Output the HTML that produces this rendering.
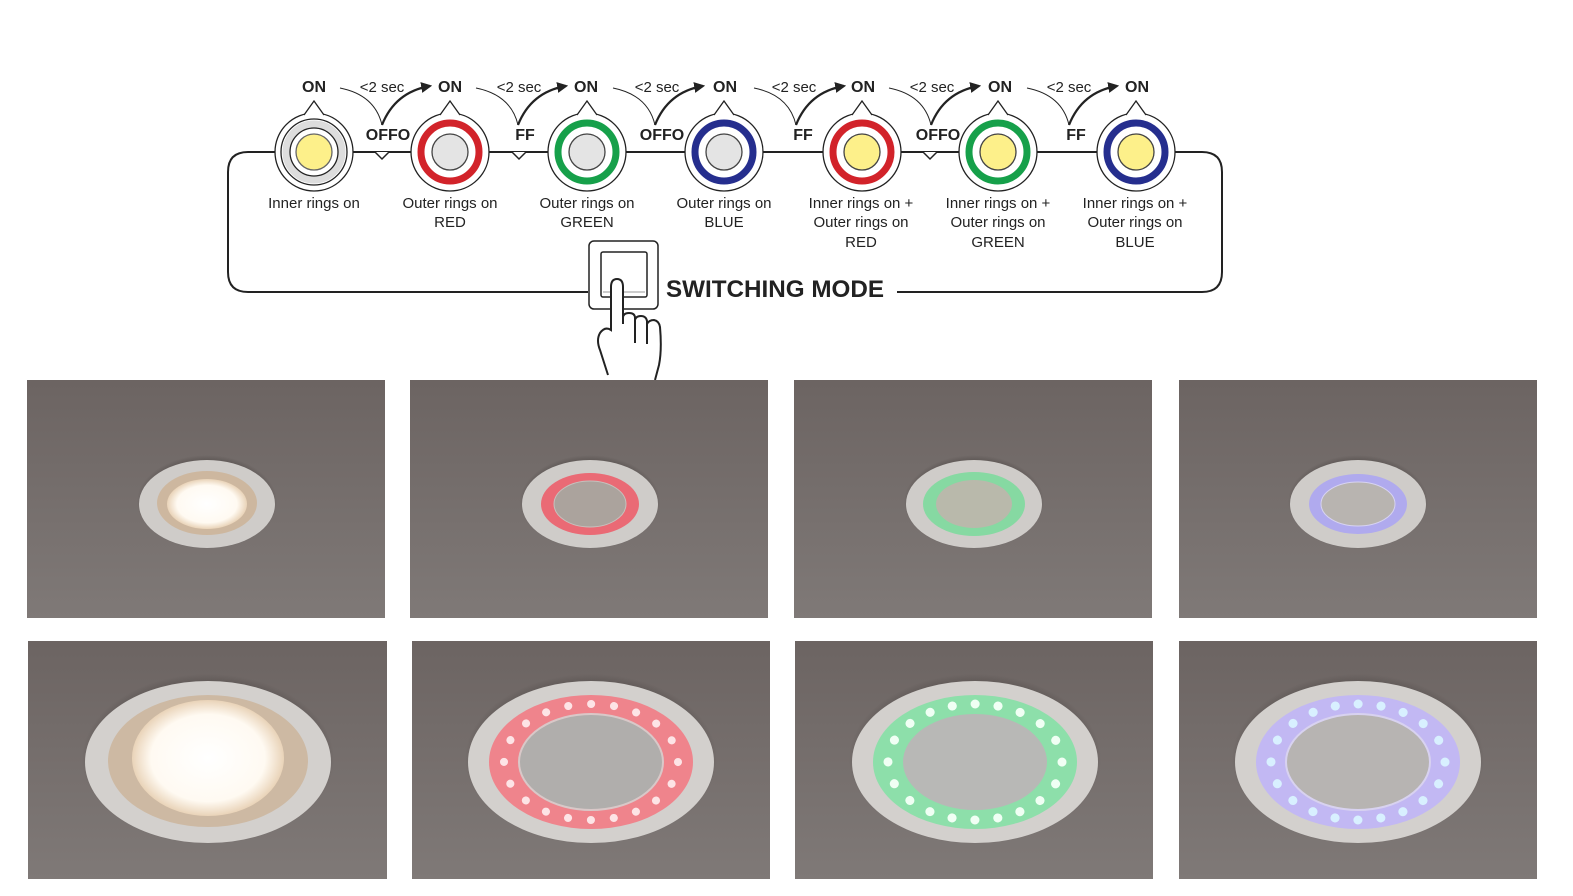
<!DOCTYPE html>
<html><head><meta charset="utf-8"><style>
html,body{margin:0;padding:0;background:#fff;}
svg{display:block;font-family:"Liberation Sans",sans-serif;}
</style></head><body>
<svg width="1573" height="896" viewBox="0 0 1573 896" xmlns="http://www.w3.org/2000/svg">
<defs>
<linearGradient id="bg" x1="0" y1="0" x2="0" y2="1"><stop offset="0" stop-color="#6c6462"/><stop offset="1" stop-color="#7f7977"/></linearGradient>
<radialGradient id="warm"><stop offset="0" stop-color="#fff"/><stop offset="0.75" stop-color="#fffaf2"/><stop offset="1" stop-color="#e9d3b8"/></radialGradient>
<radialGradient id="sh"><stop offset="0.85" stop-color="#4a4442" stop-opacity="0.6"/><stop offset="1" stop-color="#4a4442" stop-opacity="0"/></radialGradient>
<marker id="ah" viewBox="0 0 10 10" refX="8" refY="5" markerWidth="5" markerHeight="5" orient="auto"><path d="M0,0 L10,5 L0,10z" fill="#222"/></marker>
</defs>

<path d="M588,292 L248,292 Q228,292 228,272 L228,172 Q228,152 248,152 L1202,152 Q1222,152 1222,172 L1222,272 Q1222,292 1202,292 L897,292" fill="none" stroke="#222" stroke-width="2"/>
<g fill="#fff" stroke="#222" stroke-width="1.5">
<path d="M375,152 L382,159 L389,152"/><path d="M512,152 L519,159 L526,152"/><path d="M923,152 L930,159 L937,152"/>
</g>

<g stroke="#222" stroke-width="1.3">
<circle cx="314" cy="152" r="39" fill="#fff"/><path d="M304,115 L314,101 L324,115" fill="#fff"/><circle cx="314" cy="152" r="33" fill="#fff"/><circle cx="314" cy="152" r="28" fill="none" stroke="#ddd" stroke-width="7"/><circle cx="314" cy="152" r="24" fill="#fff"/><circle cx="314" cy="152" r="18" fill="#fdf08a" stroke="#666"/>
<circle cx="450" cy="152" r="39" fill="#fff"/><path d="M440,115 L450,101 L460,115" fill="#fff"/><circle cx="450" cy="152" r="29" fill="#fff" stroke="#d2232a" stroke-width="7"/><circle cx="450" cy="152" r="18" fill="#e4e4e4" stroke="#444"/>
<circle cx="587" cy="152" r="39" fill="#fff"/><path d="M577,115 L587,101 L597,115" fill="#fff"/><circle cx="587" cy="152" r="29" fill="#fff" stroke="#16a04a" stroke-width="7"/><circle cx="587" cy="152" r="18" fill="#e4e4e4" stroke="#444"/>
<circle cx="724" cy="152" r="39" fill="#fff"/><path d="M714,115 L724,101 L734,115" fill="#fff"/><circle cx="724" cy="152" r="29" fill="#fff" stroke="#252e8e" stroke-width="7"/><circle cx="724" cy="152" r="18" fill="#e4e4e4" stroke="#444"/>
<circle cx="862" cy="152" r="39" fill="#fff"/><path d="M852,115 L862,101 L872,115" fill="#fff"/><circle cx="862" cy="152" r="29" fill="#fff" stroke="#d2232a" stroke-width="7"/><circle cx="862" cy="152" r="18" fill="#fdf08a" stroke="#444"/>
<circle cx="998" cy="152" r="39" fill="#fff"/><path d="M988,115 L998,101 L1008,115" fill="#fff"/><circle cx="998" cy="152" r="29" fill="#fff" stroke="#16a04a" stroke-width="7"/><circle cx="998" cy="152" r="18" fill="#fdf08a" stroke="#444"/>
<circle cx="1136" cy="152" r="39" fill="#fff"/><path d="M1126,115 L1136,101 L1146,115" fill="#fff"/><circle cx="1136" cy="152" r="29" fill="#fff" stroke="#252e8e" stroke-width="7"/><circle cx="1136" cy="152" r="18" fill="#fdf08a" stroke="#444"/>
</g>

<g fill="none" stroke="#222" stroke-width="1">
<path d="M340,88 Q375,95 382,125"/><path d="M382,125 Q395,92 430,86" stroke-width="2.2" marker-end="url(#ah)"/>
<path d="M476,88 Q511,95 518,125"/><path d="M518,125 Q531,92 566,86" stroke-width="2.2" marker-end="url(#ah)"/>
<path d="M613,88 Q648,95 655,125"/><path d="M655,125 Q668,92 703,86" stroke-width="2.2" marker-end="url(#ah)"/>
<path d="M754,88 Q789,95 796,125"/><path d="M796,125 Q809,92 844,86" stroke-width="2.2" marker-end="url(#ah)"/>
<path d="M889,88 Q924,95 931,125"/><path d="M931,125 Q944,92 979,86" stroke-width="2.2" marker-end="url(#ah)"/>
<path d="M1027,88 Q1062,95 1069,125"/><path d="M1069,125 Q1082,92 1117,86" stroke-width="2.2" marker-end="url(#ah)"/>
</g>

<g font-size="15" fill="#222" text-anchor="middle">
<g font-weight="bold" font-size="16">
<text x="314" y="92">ON</text><text x="450" y="92">ON</text><text x="586" y="92">ON</text><text x="725" y="92">ON</text><text x="863" y="92">ON</text><text x="1000" y="92">ON</text><text x="1137" y="92">ON</text>
<text x="388" y="140">OFFO</text><text x="525" y="140">FF</text><text x="662" y="140">OFFO</text><text x="803" y="140">FF</text><text x="938" y="140">OFFO</text><text x="1076" y="140">FF</text>
</g>
<text x="382" y="92">&lt;2 sec</text><text x="519" y="92">&lt;2 sec</text><text x="657" y="92">&lt;2 sec</text><text x="794" y="92">&lt;2 sec</text><text x="932" y="92">&lt;2 sec</text><text x="1069" y="92">&lt;2 sec</text>
<text x="314" y="208">Inner rings on</text>
<text x="450" y="208">Outer rings on</text><text x="450" y="227">RED</text>
<text x="587" y="208">Outer rings on</text><text x="587" y="227">GREEN</text>
<text x="724" y="208">Outer rings on</text><text x="724" y="227">BLUE</text>
<text x="861" y="208">Inner rings on +</text><text x="861" y="227">Outer rings on</text><text x="861" y="247">RED</text>
<text x="998" y="208">Inner rings on +</text><text x="998" y="227">Outer rings on</text><text x="998" y="247">GREEN</text>
<text x="1135" y="208">Inner rings on +</text><text x="1135" y="227">Outer rings on</text><text x="1135" y="247">BLUE</text>
</g>
<text x="666" y="297" font-size="24" font-weight="bold" fill="#222" textLength="218" lengthAdjust="spacingAndGlyphs">SWITCHING MODE</text>

<rect x="589" y="241" width="69" height="68" rx="5" fill="#fff" stroke="#222" stroke-width="1.5"/>
<rect x="601" y="252" width="46" height="45" rx="2" fill="#fff" stroke="#222" stroke-width="1.5"/>
<line x1="603" y1="292" x2="645" y2="292" stroke="#999" stroke-width="1"/>
<path d="M611,322 L611,287 Q611,279 617,279 Q623,279 623,287 L623,322 M623,324 L623,318 Q623,313 629,313 Q635,313 635,318 L635,343 M635,320 Q636,316 641,316 Q646,316 647,321 L647,344 M647,324 Q649,320 654,320 Q659,321 660,327 Q662,350 659,365 L655,380 M611,322 L611,330 Q605,326 600,333 Q596,340 600,350 L608,375" fill="#fff" stroke="#222" stroke-width="2"/>

<g>
<rect x="27" y="380" width="358" height="238" fill="url(#bg)"/>
<rect x="410" y="380" width="358" height="238" fill="url(#bg)"/>
<rect x="794" y="380" width="358" height="238" fill="url(#bg)"/>
<rect x="1179" y="380" width="358" height="238" fill="url(#bg)"/>
<rect x="28" y="641" width="359" height="238" fill="url(#bg)"/>
<rect x="412" y="641" width="358" height="238" fill="url(#bg)"/>
<rect x="795" y="641" width="358" height="238" fill="url(#bg)"/>
<rect x="1179" y="641" width="358" height="238" fill="url(#bg)"/>
</g>

<g transform="translate(207,504)"><ellipse cy="-2" rx="70" ry="47" fill="url(#sh)"/><ellipse rx="68" ry="44" fill="#cfccc9"/><ellipse cy="-1" rx="50" ry="32" fill="#cdb79f"/><ellipse rx="40" ry="25" fill="url(#warm)"/></g>
<g transform="translate(590,504)"><ellipse cy="-2" rx="70" ry="47" fill="url(#sh)"/><ellipse rx="68" ry="44" fill="#cfccc9"/><ellipse rx="49" ry="31" fill="#ea6a75"/><ellipse rx="36" ry="23" fill="#aba39d" stroke="#c7c1bd"/></g>
<g transform="translate(974,504)"><ellipse cy="-2" rx="70" ry="47" fill="url(#sh)"/><ellipse rx="68" ry="44" fill="#cfccc9"/><ellipse rx="51" ry="32" fill="#86d9a2"/><ellipse rx="38" ry="24" fill="#b9b9ab"/></g>
<g transform="translate(1358,504)"><ellipse cy="-2" rx="70" ry="47" fill="url(#sh)"/><ellipse rx="68" ry="44" fill="#cfccc9"/><ellipse rx="49" ry="30" fill="#b0aaee"/><ellipse rx="37" ry="22" fill="#b8b4b0" stroke="#d7d3f2"/></g>

<g transform="translate(208,762)"><ellipse cy="-3" rx="126" ry="85" fill="url(#sh)"/><ellipse rx="123" ry="81" fill="#d3d0cd"/><ellipse cy="-1" rx="100" ry="66" fill="#cdb9a3"/><ellipse cy="-4" rx="76" ry="58" fill="url(#warm)"/></g>
<g transform="translate(591,762)"><ellipse cy="-3" rx="126" ry="85" fill="url(#sh)"/><ellipse rx="123" ry="81" fill="#d3d0cd"/><ellipse rx="102" ry="67" fill="#ef848c"/><ellipse rx="87" ry="58" fill="none" stroke="#fde4e6" stroke-width="8" stroke-linecap="round" stroke-dasharray="0.1 22.9"/><ellipse rx="72" ry="48" fill="#b0aeac" stroke="#d9c8c8" stroke-width="2"/></g>
<g transform="translate(975,762)"><ellipse cy="-3" rx="126" ry="85" fill="url(#sh)"/><ellipse rx="123" ry="81" fill="#d3d0cd"/><ellipse rx="102" ry="67" fill="#8ddfaa"/><ellipse rx="87" ry="58" fill="none" stroke="#f0fff4" stroke-width="9" stroke-linecap="round" stroke-dasharray="0.1 22.9"/><ellipse rx="72" ry="48" fill="#b8b8b6"/></g>
<g transform="translate(1358,762)"><ellipse cy="-3" rx="126" ry="85" fill="url(#sh)"/><ellipse rx="123" ry="81" fill="#d3d0cd"/><ellipse rx="102" ry="67" fill="#c2b8f3"/><ellipse rx="87" ry="58" fill="none" stroke="#d8f0ff" stroke-width="9" stroke-linecap="round" stroke-dasharray="0.1 22.9"/><ellipse rx="72" ry="48" fill="#b7b4b2" stroke="#d8d2f0" stroke-width="2"/></g>
</svg>
</body></html>
